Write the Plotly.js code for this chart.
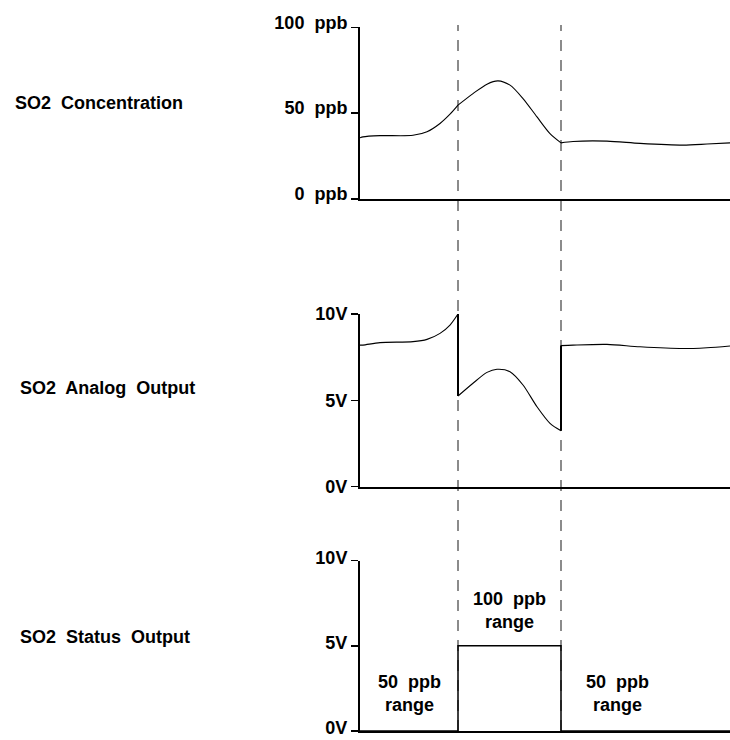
<!DOCTYPE html>
<html>
<head>
<meta charset="utf-8">
<script src="https://cdn.plot.ly/plotly-3.0.1.min.js"></script>
<style>html,body{margin:0;padding:0;background:#fff;}#chart{width:730px;height:740px;}</style>
</head>
<body>
<div id="chart"></div>
<script>
// ---- data (time in arbitrary units) ----
const switchTimes = [98, 201];          // range switch moments
const timeRange = [0, 370];

const concTime = [0, 3, 20, 53, 67, 80, 90, 98, 113, 127, 138, 150, 163, 177, 190, 201, 213, 247, 280, 323, 347, 370];
const concPpb  = [35.6, 36.2, 36.9, 37.1, 39.2, 44, 49.4, 54.7, 61.4, 66.9, 68.8, 66.3, 58.5, 47.8, 38.1, 32.7, 33.5, 33.7, 32.4, 31.4, 32, 32.7];

const analogTime = [0, 3, 20, 53, 67, 80, 90, 98, 98, 113, 127, 137, 150, 163, 177, 190, 201, 201, 213, 247, 280, 323, 347, 370];
const analogVolt = [8.2, 8.2, 8.34, 8.4, 8.53, 8.88, 9.36, 10.0, 5.25, 5.99, 6.62, 6.8, 6.66, 5.89, 4.63, 3.67, 3.24, 8.17, 8.2, 8.24, 8.1, 8.0, 8.05, 8.15];

const statusTime = [0, 98, 201, 370];
const statusVolt = [0, 5, 0, 0];

const rowLabels = ["SO2&nbsp; Concentration", "SO2&nbsp; Analog&nbsp; Output", "SO2&nbsp; Status&nbsp; Output"];
const concTicks = [0, 50, 100];
const concTickText = ["0&nbsp; ppb", "50&nbsp; ppb", "100&nbsp; ppb"];
const voltTicks = [0, 5, 10];
const voltTickText = ["0V", "5V", "10V"];
const rangeLabels = ["50&nbsp; ppb<br>range", "100&nbsp; ppb<br>range", "50&nbsp; ppb<br>range"];
const rangeLabelPos = [[49, 2.2], [149.5, 7.05], [257, 2.2]];

// ---- helpers ----
const FONT = {family: "Liberation Sans, Arial, sans-serif", size: 18, color: "#000", weight: 700};

function splitSegments(t, v, yaxis) {
  const traces = [];
  let cur = {x: [], y: []};
  for (let i = 0; i < t.length; i++) {
    cur.x.push(t[i]); cur.y.push(v[i]);
    if (switchTimes.includes(t[i]) && cur.x.length > 1) {
      traces.push(cur);
      if (t[i + 1] === t[i]) {
        traces.push({x: [t[i], t[i]], y: [v[i], v[i + 1]], jump: true});
        cur = {x: [], y: []};
      } else {
        cur = {x: [t[i]], y: [v[i]]};
      }
    }
  }
  if (cur.x.length > 1) traces.push(cur);
  return traces.map(s => ({
    x: s.x, y: s.y, type: "scatter", mode: "lines", yaxis: yaxis, xaxis: yaxis.replace("y", "x"),
    line: {color: "#000", width: s.jump ? 2 : 1.1, shape: s.jump ? "linear" : "spline", smoothing: 0.8},
    hoverinfo: "skip", showlegend: false
  }));
}

const traces = []
  .concat(splitSegments(concTime, concPpb, "y"))
  .concat(splitSegments(analogTime, analogVolt, "y2"))
  .concat([{
    x: statusTime, y: statusVolt, type: "scatter", mode: "lines", xaxis: "x3", yaxis: "y3",
    line: {color: "#000", width: 1.5, shape: "hv"}, hoverinfo: "skip", showlegend: false
  }]);

// layout geometry
const H = 740, T = 27, B = 9, PH = H - T - B;
const py = p => (H - B - p) / PH;

function xAxis(anchor) {
  return {range: timeRange, anchor: anchor, showline: true, linewidth: 2, linecolor: "#000",
          showgrid: false, zeroline: false, showticklabels: false, ticks: "", fixedrange: true,
          matches: anchor === "y" ? undefined : "x"};
}
function yAxis(domain, range, tv, tt, shift) {
  return {domain: domain, range: range, showline: true, linewidth: 2, linecolor: "#000",
          showgrid: false, zeroline: false, ticks: "outside", ticklen: 7, tickwidth: 1.5, tickcolor: "#000",
          tickvals: tv, ticktext: tt, tickfont: FONT, ticklabelshift: shift || 0,
          ticklabeloverflow: "allow", fixedrange: true};
}

const annotations = [];
const rowY = [103.5, 388.5, 637];
const rowX = [13, 18, 18];
rowLabels.forEach((txt, i) => annotations.push({
  text: txt, xref: "paper", yref: "paper", x: (rowX[i] - 360) / 370, y: py(rowY[i]),
  xanchor: "left", yanchor: "middle", showarrow: false, font: FONT
}));
rangeLabels.forEach((txt, i) => annotations.push({
  text: txt, xref: "x3", yref: "y3", x: rangeLabelPos[i][0], y: rangeLabelPos[i][1],
  xanchor: "center", yanchor: "middle", showarrow: false, font: FONT, align: "center"
}));

const shapes = switchTimes.map(t => ({
  type: "line", xref: "x", yref: "paper", x0: t, x1: t, y0: py(731), y1: py(25),
  line: {color: "#666", width: 1.5, dash: "11px,9px"}, layer: "below"
}));

const layout = {
  width: 730, height: 740,
  margin: {l: 360, r: 0, t: T, b: B, pad: 0},
  paper_bgcolor: "#fff", plot_bgcolor: "rgba(0,0,0,0)",
  showlegend: false,
  xaxis: xAxis("y"), xaxis2: xAxis("y2"), xaxis3: xAxis("y3"),
  yaxis: yAxis([py(199), py(27.3)], [0, 100], concTicks, concTickText, -5),
  yaxis2: yAxis([py(486.7), py(314)], [0, 10], voltTicks, voltTickText, 0),
  yaxis3: yAxis([py(731), py(560.7)], [0, 10], voltTicks, voltTickText, -3),
  annotations: annotations,
  shapes: shapes
};

Plotly.newPlot("chart", traces, layout, {staticPlot: true, displayModeBar: false});
</script>
</body>
</html>
